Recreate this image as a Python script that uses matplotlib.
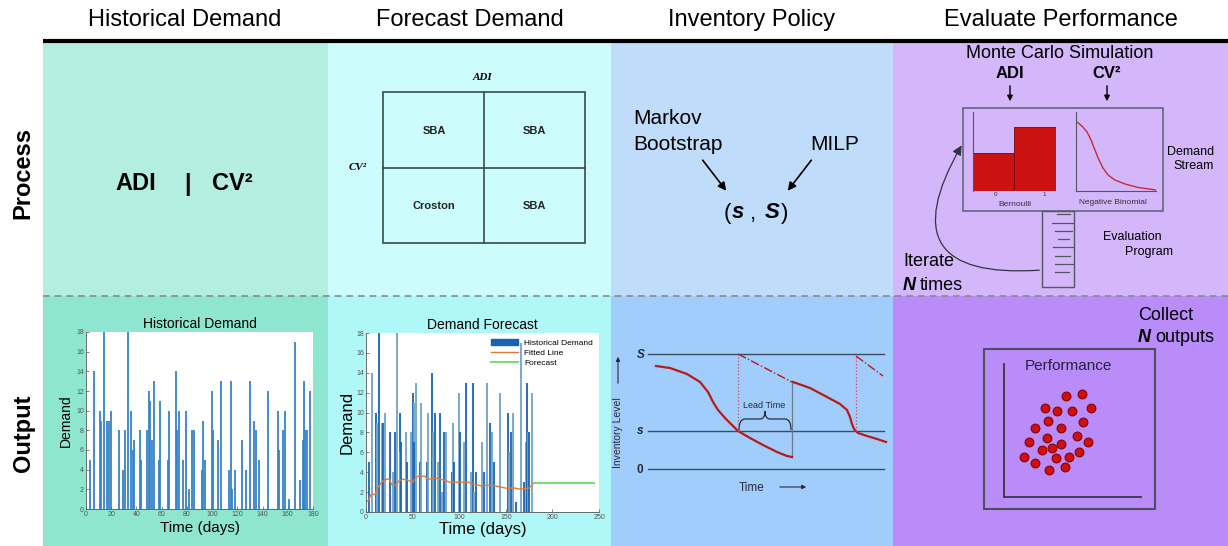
import matplotlib
matplotlib.use("Agg")
import matplotlib.pyplot as plt
from matplotlib.patches import Rectangle, FancyArrowPatch, PathPatch
from matplotlib.path import Path

plt.rcParams['font.family'] = ['Liberation Sans', 'DejaVu Sans']

W, H = 1228, 546

headers = ["Historical Demand", "Forecast Demand", "Inventory Policy", "Evaluate Performance"]
row_labels = ["Process", "Output"]

# historical demand (day, units)
days = [3, 6, 11, 12, 14, 17, 18, 20, 26, 29, 31, 33, 36, 37, 38,
        43, 44, 48, 50, 51, 52, 54, 58, 59, 65, 66, 71, 72, 74, 77, 79,
        82, 84, 86, 92, 93, 94, 100, 101, 105, 107, 113, 115, 116, 118,
        124, 127, 130, 133, 135, 137, 144, 152, 153, 156, 158, 161,
        166, 170, 172, 173, 174, 175, 178]
demand = [5, 14, 10, 9, 18, 9, 9, 10, 8, 4, 8, 18, 10, 6, 7,
          8, 5, 8, 12, 11, 7, 13, 5, 11, 5, 10, 14, 8, 10, 5, 10,
          2, 8, 8, 4, 9, 5, 12, 8, 7, 13, 4, 13, 2, 4,
          7, 4, 13, 9, 8, 5, 12, 10, 6, 8, 10, 1,
          17, 3, 7, 13, 8, 8, 12]

# fitted line + forecast
fit_days = [0, 3, 5, 10, 13, 17, 21, 25, 28, 32, 35, 40, 45, 50, 53, 56, 63, 66, 75, 80,
            90, 100, 110, 115, 125, 130, 140, 150, 160, 165, 175, 180]
fit_vals = [1.0, 1.2, 1.7, 1.8, 2.5, 3.0, 3.3, 3.3, 2.7, 2.7, 3.1, 3.3, 3.2, 3.0, 3.4, 3.6, 3.6, 3.3, 3.4, 3.3,
            3.0, 3.0, 3.0, 2.8, 2.6, 2.7, 2.6, 2.4, 2.4, 2.3, 2.4, 2.9]
fc_days = [180, 245]
fc_vals = [2.9, 2.9]

# (s, S) sketch: time, inventory level
lvl_S, lvl_s = 115, 38
inv1_t = [16, 30, 47, 60, 68, 73, 78, 85, 92, 98, 110, 123, 137, 147, 152]
inv1_l = [103, 101, 95, 87, 77, 67, 59, 51, 44, 38, 31, 24, 17, 13, 12]
inv2_t = [153, 170, 187, 200, 207, 210, 212, 214, 218, 227, 237, 246]
inv2_l = [87, 81, 72, 65, 59, 52, 45, 40, 36, 33, 30, 27]
pos1_t, pos1_l = [98, 152], [115, 87]
pos2_t, pos2_l = [216, 243], [113, 93]

# monte carlo sketch
bern_p = [0.48, 0.80]
nb_x = [0.12, 0.78, 1.41, 1.91, 2.40, 2.90, 3.40, 4.02, 4.89, 6.14, 7.76, 10.0]
nb_y = [8.73, 8.19, 7.43, 6.42, 5.15, 3.89, 2.87, 1.99, 1.35, 0.85, 0.41, 0.09]

# performance outputs
perf_x = [4.50, 5.72, 2.99, 3.89, 4.94, 6.33, 3.23, 5.74, 2.28, 4.14, 1.85, 3.14,
          5.35, 4.14, 6.15, 2.80, 3.50, 5.45, 1.44, 3.77, 4.74, 2.24, 4.43, 3.28]
perf_y = [7.62, 7.77, 6.67, 6.47, 6.47, 6.67, 5.71, 5.66, 5.17, 5.21, 4.16, 4.46,
          4.61, 3.98, 4.14, 3.56, 3.66, 3.36, 3.01, 2.91, 3.01, 2.56, 2.28, 2.05]

col_edges = [43, 328, 611, 893, 1228]
top_colors = ['#b3eee0', '#ccfcfc', '#bfddfb', '#d4b6fa']
bot_colors = ['#8ee6d0', '#b0f7f7', '#a0cdfb', '#b98cfa']
red = '#b81a1a'


def px_rect(x0, y0, x1, y1):
    return [x0 / W, 1 - y1 / H, (x1 - x0) / W, (y1 - y0) / H]


fig = plt.figure(figsize=(12.28, 5.46), dpi=100)
base = fig.add_axes([0, 0, 1, 1])
base.set_xlim(0, W)
base.set_ylim(H, 0)
base.axis('off')

for i in range(4):
    x0, x1 = col_edges[i], col_edges[i + 1]
    base.add_patch(Rectangle((x0, 42), x1 - x0, 254, color=top_colors[i], lw=0))
    base.add_patch(Rectangle((x0, 296), x1 - x0, 250, color=bot_colors[i], lw=0))
    base.text((x0 + x1) / 2 if i else 185, 20, headers[i], ha='center', va='center', fontsize=17)

base.plot([43, 1228], [41, 41], color='black', lw=3, solid_capstyle='butt')
base.plot([43, 1228], [296, 296], color='#8a8a8a', lw=1.2, dashes=(4, 3))

base.text(23, 173, row_labels[0], rotation=90, ha='center', va='center', fontsize=17, fontweight='bold')
base.text(23, 433, row_labels[1], rotation=90, ha='center', va='center', fontsize=17, fontweight='bold')

# ---- Process / historical
base.text(136, 184, "ADI", ha='center', va='center', fontsize=17, fontweight='bold')
base.text(187, 184, "|", ha='center', va='center', fontsize=17, fontweight='bold')
base.text(232, 184, "CV²", ha='center', va='center', fontsize=17, fontweight='bold')

# ---- Process / forecast matrix
base.add_patch(Rectangle((383, 92), 202, 151, fill=False, ec='#3c4a4a', lw=1.2))
base.plot([484, 484], [92, 243], color='#3c4a4a', lw=1.2)
base.plot([383, 585], [168, 168], color='#3c4a4a', lw=1.2)
base.text(482, 77, "ADI", ha='center', va='center', fontsize=8, fontweight='bold',
          style='italic', family='Liberation Serif')
base.text(358, 168, "CV²", ha='center', va='center', fontsize=8, fontweight='bold',
          style='italic', family='Liberation Serif')
for (cx, cy, lab) in [(434, 131, "SBA"), (534, 131, "SBA"), (434, 206, "Croston"), (534, 206, "SBA")]:
    base.text(cx, cy, lab, ha='center', va='center', fontsize=8, fontweight='bold', color='#222222')

# ---- Process / inventory policy
base.text(633, 118, "Markov", ha='left', va='center', fontsize=15)
base.text(633, 145, "Bootstrap", ha='left', va='center', fontsize=15)
base.text(835, 145, "MILP", ha='center', va='center', fontsize=15)
arr = dict(arrowstyle='-|>', color='black', lw=1.2, mutation_scale=12)
base.annotate("", xy=(728, 193), xytext=(701, 158), arrowprops=arr)
base.annotate("", xy=(786, 193), xytext=(813, 158), arrowprops=arr)
for (cx, t, st) in [(727, "(", 'normal'), (738, "s", 'bi'), (753, ",", 'normal'),
                    (772, "S", 'bi'), (785, ")", 'normal')]:
    if st == 'bi':
        base.text(cx, 213, t, ha='center', va='center', fontsize=16, fontweight='bold', style='italic')
    else:
        base.text(cx, 213, t, ha='center', va='center', fontsize=16)

# ---- Process / evaluate performance
base.text(1060, 53, "Monte Carlo Simulation", ha='center', va='center', fontsize=13)
base.text(1010, 74, "ADI", ha='center', va='center', fontsize=12, fontweight='bold')
base.text(1107, 74, "CV²", ha='center', va='center', fontsize=12, fontweight='bold')
arr2 = dict(arrowstyle='-|>', color='black', lw=1.0, mutation_scale=8)
base.annotate("", xy=(1010, 104), xytext=(1010, 83), arrowprops=arr2)
base.annotate("", xy=(1107, 104), xytext=(1107, 83), arrowprops=arr2)
base.add_patch(Rectangle((963, 108), 200, 103, fill=False, ec='#666677', lw=1.2))

bx = fig.add_axes(px_rect(972.7, 111.7, 1056, 190.7))
bx.bar([0, 1], bern_p, width=1, align='edge', color='#cc1111', edgecolor='#6a0a0a', lw=0.6)
bx.set_xlim(0, 2)
bx.set_ylim(0, 1)
bx.patch.set_alpha(0)
for sp in ['top', 'right', 'bottom']:
    bx.spines[sp].set_visible(False)
bx.spines['left'].set_color('#555566')
bx.set_xticks([])
bx.set_yticks([])
base.text(996, 194, "0", ha='center', va='center', fontsize=4.5, color='#333333')
base.text(1044, 194, "1", ha='center', va='center', fontsize=4.5, color='#333333')
base.text(1015, 204, "Bernoulli", ha='center', va='center', fontsize=6, color='#333333')

nx = fig.add_axes(px_rect(1075.7, 111.7, 1156, 190.7))
nx.plot(nb_x, nb_y, color='#c03030', lw=1.0)
nx.set_xlim(0, 10)
nx.set_ylim(0, 10)
nx.patch.set_alpha(0)
for sp in ['top', 'right']:
    nx.spines[sp].set_visible(False)
for sp in ['left', 'bottom']:
    nx.spines[sp].set_color('#555566')
nx.set_xticks([])
nx.set_yticks([])
base.text(1113, 203, "Negative Binomial", ha='center', va='center', fontsize=6, color='#333333')

base.text(1214, 159, "Demand\nStream", ha='right', va='center', fontsize=9,
          multialignment='right', linespacing=1.3)

# document
base.add_patch(Rectangle((1042, 211), 32, 76, fill=False, ec='#555566', lw=1.0))
for (ly, lx0, lx1) in [(214, 1057, 1070), (223, 1052, 1073), (231, 1055, 1072), (239, 1058, 1069),
                       (247, 1053, 1073), (256, 1055, 1070), (264, 1055, 1073), (272, 1055, 1069)]:
    base.plot([lx0, lx1], [ly, ly], color='#555566', lw=0.9)
base.text(1103, 237, "Evaluation", ha='left', va='center', fontsize=9)
base.text(1125, 252, "Program", ha='left', va='center', fontsize=9)

base.add_patch(FancyArrowPatch((1042, 270), (963, 143), connectionstyle='arc3,rad=-0.95',
                               arrowstyle='-|>', mutation_scale=14, color='#333344', lw=0.9))
base.text(903, 262, "Iterate", ha='left', va='center', fontsize=13)
base.text(903, 285, "N", ha='left', va='center', fontsize=13, fontweight='bold', style='italic')
base.text(920, 285, "times", ha='left', va='center', fontsize=13)

# ---- Output / historical demand chart
hx = fig.add_axes(px_rect(86, 332, 313, 509))
hx.vlines(days, 0, demand, colors='#3583c6', lw=1.3)
hx.set_xlim(0, 180)
hx.set_ylim(0, 18)
hx.set_xticks(range(0, 181, 20))
hx.set_yticks(range(0, 19, 2))
hx.set_title("Historical Demand", fontsize=10, pad=3)
hx.set_xlabel("Time (days)", fontsize=11, labelpad=2)
hx.set_ylabel("Demand", fontsize=10, labelpad=2)

# ---- Output / forecast chart
fx = fig.add_axes(px_rect(366, 333, 599, 512))
bar_cols = ['#1664b0' if i % 2 == 0 else '#6fa2c8' for i in range(len(days))]
fx.vlines(days, 0, demand, colors=bar_cols, lw=1.3)
l_fit, = fx.plot(fit_days, fit_vals, color='#e27a3c', lw=1.0)
l_fc, = fx.plot(fc_days, fc_vals, color='#7ddc7a', lw=1.5)
fx.set_xlim(0, 250)
fx.set_ylim(0, 18)
fx.set_xticks(range(0, 251, 50))
fx.set_yticks(range(0, 19, 2))
fx.set_title("Demand Forecast", fontsize=10, pad=3)
fx.set_xlabel("Time (days)", fontsize=12, labelpad=1)
fx.set_ylabel("Demand", fontsize=12, labelpad=1)
leg_patch = Rectangle((0, 0), 1, 1, color='#1664b0')
fx.legend([leg_patch, l_fit, l_fc], ["Historical Demand", "Fitted Line", "Forecast"],
          loc='upper right', fontsize=6, frameon=False, handlelength=3.2,
          borderaxespad=0.3, labelspacing=0.3)

for a in (hx, fx):
    for sp in ['top', 'right']:
        a.spines[sp].set_visible(False)
    for sp in ['left', 'bottom']:
        a.spines[sp].set_color('#555555')
        a.spines[sp].set_linewidth(0.6)
    a.tick_params(labelsize=5, colors='#555555', length=2, width=0.5, direction='in', pad=1.5)

# ---- Output / inventory policy sketch
ix = fig.add_axes(px_rect(640, 340, 890, 480))
ix.set_xlim(0, 250)
ix.set_ylim(-11, 129)
ix.axis('off')
for lv in (lvl_S, lvl_s, 0):
    ix.plot([8, 244], [lv, lv], color='#3d4d5d', lw=1.0)
ix.plot([152, 152], [12, 87], color='#6a7a88', lw=0.9)
ix.plot(inv1_t, inv1_l, color=red, lw=1.6, solid_joinstyle='round')
ix.plot(inv2_t, inv2_l, color=red, lw=1.6, solid_joinstyle='round')
ix.plot([98, 98], [lvl_s, lvl_S], color='#d04a5a', lw=0.9, ls=':')
ix.plot([216, 216], [lvl_s, 113], color='#d04a5a', lw=0.9, ls=':')
ix.plot(pos1_t, pos1_l, color=red, lw=1.0, ls='-.')
ix.plot(pos2_t, pos2_l, color=red, lw=1.0, ls='-.')
# brace for lead time
x0, x1, y0 = 99, 151, 39
xm = (x0 + x1) / 2
verts = [(x0, y0), (x0, y0 + 11), (x0 + 6, y0 + 11), (xm - 5, y0 + 11), (xm, y0 + 11), (xm, y0 + 19),
         (xm, y0 + 11), (xm + 5, y0 + 11), (x1 - 6, y0 + 11), (x1, y0 + 11), (x1, y0)]
codes = [Path.MOVETO, Path.CURVE3, Path.CURVE3, Path.LINETO, Path.CURVE3, Path.CURVE3,
         Path.CURVE3, Path.CURVE3, Path.LINETO, Path.CURVE3, Path.CURVE3]
ix.add_patch(PathPatch(Path(verts, codes), fill=False, ec='#2a2a3a', lw=0.9))
ix.text(124, 64, "Lead Time", ha='center', va='center', fontsize=6.5, color='#2a2a3a')
base.text(641, 355, "S", ha='center', va='center', fontsize=8.5, fontweight='bold', style='italic', color='#2a2a3a')
base.text(640, 431, "s", ha='center', va='center', fontsize=8.5, fontweight='bold', style='italic', color='#2a2a3a')
base.text(640, 470, "0", ha='center', va='center', fontsize=8.5, fontweight='bold', color='#2a2a3a')
base.text(618, 433, "Inventory Level", rotation=90, ha='center', va='center', fontsize=7.5, color='#2a2a3a')
arr3 = dict(arrowstyle='-|>', color='#2a2a3a', lw=0.8, mutation_scale=6)
base.annotate("", xy=(618, 354), xytext=(618, 386), arrowprops=arr3)
base.text(752, 488, "Time", ha='center', va='center', fontsize=8.5, color='#2a2a3a')
base.annotate("", xy=(809, 487), xytext=(777, 487), arrowprops=arr3)

# ---- Output / performance
base.add_patch(Rectangle((984, 349), 171, 160, fill=False, ec='#4e4e5e', lw=1.5))
px_ = fig.add_axes(px_rect(1004, 364, 1141, 497))
px_.scatter(perf_x, perf_y, s=40, color='#d01010', edgecolors='#8a0000', linewidths=0.8, zorder=3)
px_.set_xlim(0, 10)
px_.set_ylim(0, 10)
px_.patch.set_alpha(0)
for sp in ['top', 'right']:
    px_.spines[sp].set_visible(False)
for sp in ['left', 'bottom']:
    px_.spines[sp].set_color('#35354a')
    px_.spines[sp].set_linewidth(1.3)
px_.set_xticks([])
px_.set_yticks([])
base.text(1068, 366, "Performance", ha='center', va='center', fontsize=11, color='#22223a')
base.text(1138, 316, "Collect", ha='left', va='center', fontsize=13)
base.text(1138, 338, "N", ha='left', va='center', fontsize=13, fontweight='bold', style='italic')
base.text(1155, 338, "outputs", ha='left', va='center', fontsize=13)

fig.savefig("out.png", dpi=100)
